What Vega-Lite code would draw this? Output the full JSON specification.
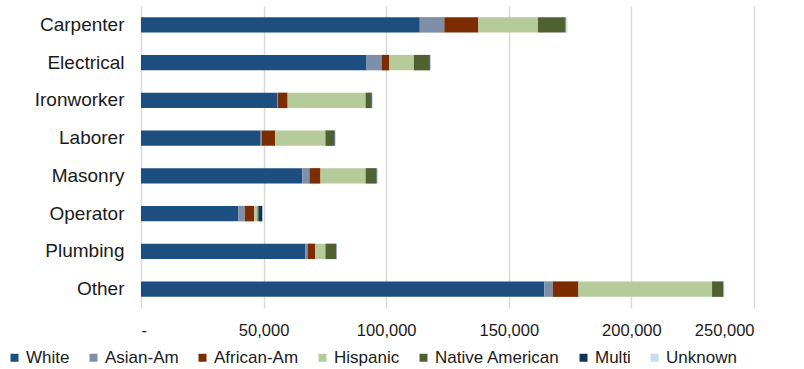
{
  "$schema": "https://vega.github.io/schema/vega-lite/v6.json",
  "width": 613,
  "height": 302,
  "autosize": {"type": "none"},
  "padding": {"left": 141, "top": 6, "right": 50, "bottom": 61},
  "background": "white",
  "config": {
    "view": {"stroke": null},
    "font": "Liberation Sans",
    "axis": {"labelFont": "Liberation Sans", "labelColor": "#1a1a1a"},
    "legend": {"labelFont": "Liberation Sans", "labelColor": "#1a1a1a"}
  },
  "data": {
    "values": [
      {"trade": "Carpenter", "group": "White", "workers": 113700},
      {"trade": "Carpenter", "group": "Asian-Am", "workers": 10000},
      {"trade": "Carpenter", "group": "African-Am", "workers": 13900},
      {"trade": "Carpenter", "group": "Hispanic", "workers": 24300},
      {"trade": "Carpenter", "group": "Native American", "workers": 11000},
      {"trade": "Carpenter", "group": "Multi", "workers": 300},
      {"trade": "Carpenter", "group": "Unknown", "workers": 700},
      {"trade": "Electrical", "group": "White", "workers": 92000},
      {"trade": "Electrical", "group": "Asian-Am", "workers": 6100},
      {"trade": "Electrical", "group": "African-Am", "workers": 3200},
      {"trade": "Electrical", "group": "Hispanic", "workers": 10000},
      {"trade": "Electrical", "group": "Native American", "workers": 6500},
      {"trade": "Electrical", "group": "Multi", "workers": 200},
      {"trade": "Electrical", "group": "Unknown", "workers": 300},
      {"trade": "Ironworker", "group": "White", "workers": 55500},
      {"trade": "Ironworker", "group": "Asian-Am", "workers": 300},
      {"trade": "Ironworker", "group": "African-Am", "workers": 4000},
      {"trade": "Ironworker", "group": "Hispanic", "workers": 31800},
      {"trade": "Ironworker", "group": "Native American", "workers": 2400},
      {"trade": "Ironworker", "group": "Multi", "workers": 200},
      {"trade": "Ironworker", "group": "Unknown", "workers": 400},
      {"trade": "Laborer", "group": "White", "workers": 48800},
      {"trade": "Laborer", "group": "Asian-Am", "workers": 400},
      {"trade": "Laborer", "group": "African-Am", "workers": 5500},
      {"trade": "Laborer", "group": "Hispanic", "workers": 20500},
      {"trade": "Laborer", "group": "Native American", "workers": 3700},
      {"trade": "Laborer", "group": "Multi", "workers": 200},
      {"trade": "Laborer", "group": "Unknown", "workers": 400},
      {"trade": "Masonry", "group": "White", "workers": 65800},
      {"trade": "Masonry", "group": "Asian-Am", "workers": 2900},
      {"trade": "Masonry", "group": "African-Am", "workers": 4500},
      {"trade": "Masonry", "group": "Hispanic", "workers": 18400},
      {"trade": "Masonry", "group": "Native American", "workers": 4400},
      {"trade": "Masonry", "group": "Multi", "workers": 200},
      {"trade": "Masonry", "group": "Unknown", "workers": 500},
      {"trade": "Operator", "group": "White", "workers": 39600},
      {"trade": "Operator", "group": "Asian-Am", "workers": 2700},
      {"trade": "Operator", "group": "African-Am", "workers": 3900},
      {"trade": "Operator", "group": "Hispanic", "workers": 1300},
      {"trade": "Operator", "group": "Native American", "workers": 400},
      {"trade": "Operator", "group": "Multi", "workers": 1600},
      {"trade": "Operator", "group": "Unknown", "workers": 100},
      {"trade": "Plumbing", "group": "White", "workers": 67100},
      {"trade": "Plumbing", "group": "Asian-Am", "workers": 800},
      {"trade": "Plumbing", "group": "African-Am", "workers": 3200},
      {"trade": "Plumbing", "group": "Hispanic", "workers": 4100},
      {"trade": "Plumbing", "group": "Native American", "workers": 4500},
      {"trade": "Plumbing", "group": "Multi", "workers": 100},
      {"trade": "Plumbing", "group": "Unknown", "workers": 200},
      {"trade": "Other", "group": "White", "workers": 164500},
      {"trade": "Other", "group": "Asian-Am", "workers": 3400},
      {"trade": "Other", "group": "African-Am", "workers": 10500},
      {"trade": "Other", "group": "Hispanic", "workers": 54500},
      {"trade": "Other", "group": "Native American", "workers": 4500},
      {"trade": "Other", "group": "Multi", "workers": 200},
      {"trade": "Other", "group": "Unknown", "workers": 300}
    ]
  },
  "transform": [
    {"calculate": "indexof(['White','Asian-Am','African-Am','Hispanic','Native American','Multi','Unknown'], datum.group)", "as": "stackOrder"}
  ],
  "mark": {"type": "bar"},
  "encoding": {
    "y": {
      "field": "trade",
      "type": "nominal",
      "sort": ["Carpenter", "Electrical", "Ironworker", "Laborer", "Masonry", "Operator", "Plumbing", "Other"],
      "scale": {"paddingInner": 0.59, "paddingOuter": 0.295},
      "axis": {"title": null, "ticks": false, "domain": false, "labelPadding": 17, "labelFontSize": 19}
    },
    "x": {
      "field": "workers",
      "type": "quantitative",
      "stack": "zero",
      "scale": {"domain": [0, 250000], "nice": false},
      "axis": {
        "title": null,
        "values": [0, 50000, 100000, 150000, 200000, 250000],
        "labelExpr": "datum.value == 0 ? '-' : format(datum.value, ',')",
        "ticks": false,
        "domain": false,
        "grid": true,
        "gridColor": "#d9d9d9",
        "gridWidth": 1.5,
        "labelPadding": 14,
        "labelFontSize": 16.5
      }
    },
    "color": {
      "field": "group",
      "type": "nominal",
      "scale": {
        "domain": ["White", "Asian-Am", "African-Am", "Hispanic", "Native American", "Multi", "Unknown"],
        "range": ["#1c4e80", "#7f8fa9", "#7b2c00", "#b6cb9a", "#4f6130", "#13325a", "#c8dcf2"]
      },
      "legend": {
        "title": null,
        "orient": "none",
        "direction": "horizontal",
        "legendX": -135,
        "legendY": 343,
        "symbolType": "square",
        "symbolSize": 64,
        "symbolStrokeWidth": 0,
        "labelOffset": 3,
        "columnPadding": 15,
        "labelFontSize": 17
      }
    },
    "order": {"field": "stackOrder", "type": "quantitative"}
  }
}
